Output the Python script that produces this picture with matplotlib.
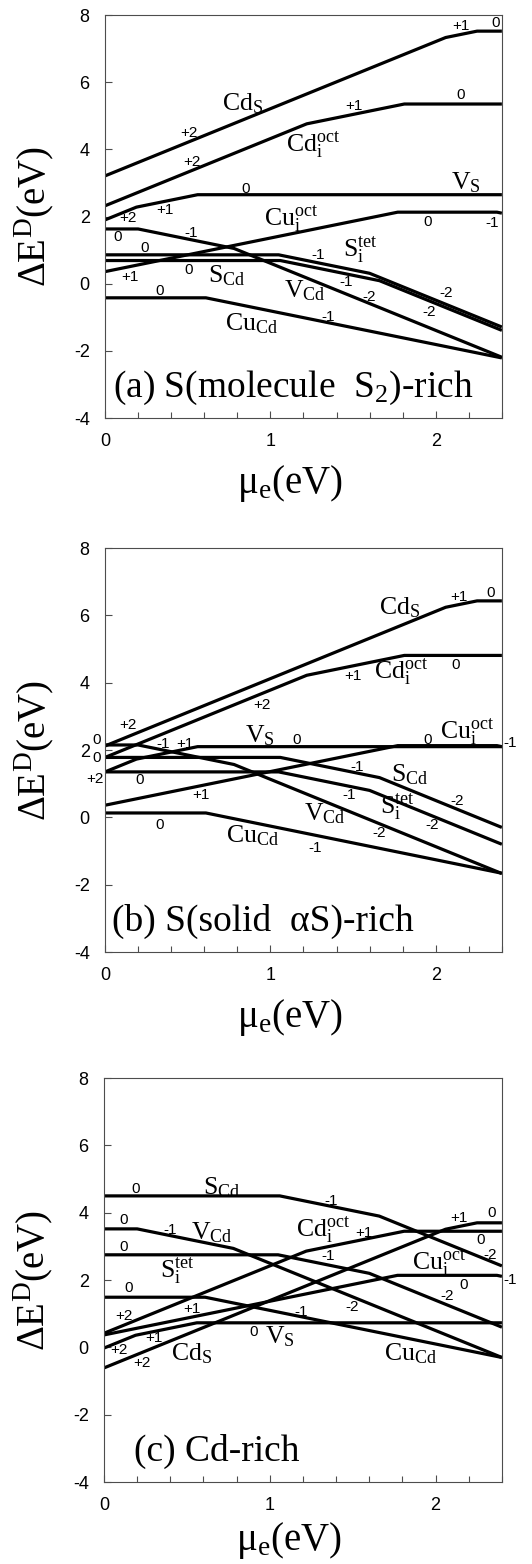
import matplotlib
matplotlib.use('Agg')
import matplotlib.pyplot as plt
from matplotlib.ticker import MultipleLocator

plt.rcParams['font.family'] = 'Liberation Sans'
plt.rcParams['mathtext.fontset'] = 'custom'
plt.rcParams['mathtext.rm'] = 'Liberation Serif'
plt.rcParams['mathtext.it'] = 'Liberation Serif:italic'
plt.rcParams['axes.unicode_minus'] = False

# Fermi-level break points (transition levels) for each defect
x_CdS = [0, 2.06, 2.25, 2.4]
x_Cdi = [0, 1.22, 1.81, 2.4]
x_VS = [0, 0.19, 0.56, 2.4]
x_Cui = [0, 1.77, 2.37, 2.4]
x_VCd = [0, 0.2, 0.78, 2.4]
x_Si = [0, 1.05, 1.60, 2.4]
x_SCd = [0, 1.06, 1.66, 2.4]
x_CuCd = [0, 0.61, 2.4]

# formation energies at those points, (a) S2-rich
a_CdS = [3.21, 7.33, 7.52, 7.52]
a_Cdi = [2.32, 4.76, 5.35, 5.35]
a_VS = [1.90, 2.28, 2.65, 2.65]
a_Cui = [0.36, 2.13, 2.13, 2.10]
a_VCd = [1.63, 1.63, 1.05, -2.19]
a_Si = [0.86, 0.86, 0.31, -1.29]
a_SCd = [0.69, 0.69, 0.09, -1.39]
a_CuCd = [-0.42, -0.42, -2.21]

# (b) solid S-rich
b_CdS = [2.12, 6.24, 6.43, 6.43]
b_Cdi = [1.78, 4.22, 4.81, 4.81]
b_VS = [1.35, 1.73, 2.10, 2.10]
b_Cui = [0.36, 2.13, 2.13, 2.10]
b_VCd = [2.15, 2.15, 1.57, -1.67]
b_Si = [1.35, 1.35, 0.80, -0.80]
b_SCd = [1.78, 1.78, 1.18, -0.30]
b_CuCd = [0.13, 0.13, -1.66]

# (c) Cd-rich
c_CdS = [-0.61, 3.51, 3.70, 3.70]
c_Cdi = [0.42, 2.86, 3.45, 3.45]
c_VS = [-0.02, 0.36, 0.73, 0.73]
c_Cui = [0.37, 2.14, 2.14, 2.11]
c_VCd = [3.52, 3.52, 2.94, -0.30]
c_Si = [2.75, 2.75, 2.20, 0.60]
c_SCd = [4.50, 4.50, 3.90, 2.42]
c_CuCd = [1.49, 1.49, -0.30]

CdS = r'$\mathrm{Cd_S}$'
Cdi = r'$\mathrm{Cd_i^{oct}}$'
VS = r'$\mathrm{V_S}$'
Cui = r'$\mathrm{Cu_i^{oct}}$'
VCd = r'$\mathrm{V_{Cd}}$'
Si = r'$\mathrm{S_i^{tet}}$'
SCd = r'$\mathrm{S_{Cd}}$'
CuCd = r'$\mathrm{Cu_{Cd}}$'

# defect name labels
a_names = [(0.83, 5.36, CdS), (1.26, 4.14, Cdi), (2.18, 3.0, VS), (1.125, 1.95, Cui),
           (1.545, 1.0, Si), (0.733, 0.23, SCd), (1.21, -0.21, VCd), (0.883, -1.18, CuCd)]
b_names = [(1.78, 6.22, CdS), (1.79, 4.32, Cdi), (0.935, 2.43, VS), (2.19, 2.55, Cui),
           (1.845, 1.27, SCd), (1.77, 0.31, Si), (1.33, 0.11, VCd), (0.89, -0.56, CuCd)]
c_names = [(0.71, 4.73, SCd), (0.65, 3.41, VCd), (0.44, 2.28, Si), (1.32, 3.49, Cdi),
           (2.02, 2.53, Cui), (1.06, 0.32, VS), (0.53, -0.18, CdS), (1.85, -0.18, CuCd)]

# charge state labels
a_q = [(0.51, 4.49, '+2'), (0.525, 3.62, '+2'), (1.505, 5.28, '+1'), (2.15, 7.67, '+1'),
       (2.36, 7.75, '0'), (2.15, 5.63, '0'), (0.85, 2.82, '0'), (0.14, 1.95, '+2'),
       (0.36, 2.18, '+1'), (1.95, 1.85, '0'), (2.34, 1.8, '-1'), (0.075, 1.40, '0'),
       (0.52, 1.50, '-1'), (0.24, 1.05, '0'), (0.15, 0.21, '+1'), (0.505, 0.41, '0'),
       (1.29, 0.86, '-1'), (1.46, 0.06, '-1'), (1.60, -0.39, '-2'), (2.06, -0.29, '-2'),
       (1.96, -0.84, '-2'), (0.33, -0.22, '0'), (1.35, -1.0, '-1')]
b_q = [(0.14, 2.73, '+2'), (-0.05, 2.31, '0'), (-0.05, 1.76, '0'), (-0.06, 1.14, '+2'),
       (0.35, 2.19, '-1'), (0.485, 2.19, '+1'), (1.16, 2.31, '0'), (1.95, 2.31, '0'),
       (2.45, 2.21, '-1'), (0.21, 1.12, '0'), (0.58, 0.67, '+1'), (0.95, 3.35, '+2'),
       (1.5, 4.19, '+1'), (2.12, 4.53, '0'), (2.14, 6.56, '+1'), (2.33, 6.66, '0'),
       (1.525, 1.51, '-1'), (2.13, 0.48, '-2'), (1.475, 0.67, '-1'), (1.98, -0.22, '-2'),
       (1.66, -0.47, '-2'), (0.33, -0.22, '0'), (1.27, -0.91, '-1')]
c_q = [(0.19, 4.71, '0'), (1.37, 4.36, '-1'), (0.12, 3.79, '0'), (0.40, 3.49, '-1'),
       (0.12, 2.98, '0'), (1.565, 3.41, '+1'), (2.14, 3.84, '+1'), (2.34, 3.99, '0'),
       (2.27, 3.19, '0'), (2.33, 2.75, '-2'), (2.45, 2.0, '-1'), (2.17, 1.86, '0'),
       (2.07, 1.53, '-2'), (1.35, 2.70, '-1'), (0.15, 1.76, '0'), (1.19, 1.06, '-1'),
       (1.495, 1.21, '-2'), (0.12, 0.93, '+2'), (0.53, 1.13, '+1'), (0.90, 0.47, '0'),
       (0.09, -0.08, '+2'), (0.30, 0.27, '+1'), (0.23, -0.46, '+2')]


def mkplt(rect, ys, names, charges, title, title_x, xpad=9):
    ax = fig.add_axes(rect)
    xs = [x_CdS, x_Cdi, x_VS, x_Cui, x_VCd, x_Si, x_SCd, x_CuCd]
    for x, y in zip(xs, ys):
        ax.plot(x, y, '-k', linewidth=2.3, solid_capstyle='butt')
    for x, y, s in names:
        ax.text(x, y, s, fontsize=18.5, ha='center', va='center')
    for x, y, s in charges:
        ax.text(x, y, s, fontsize=11, ha='center', va='center')
    ax.text(title_x, -3.1, title, fontsize=27, family='Liberation Serif', va='center')
    ax.set_xlim(0, 2.4)
    ax.set_ylim(-4, 8)
    ax.set_xticks([0, 1, 2])
    ax.set_yticks([-4, -2, 0, 2, 4, 6, 8])
    ax.xaxis.set_minor_locator(MultipleLocator(0.2))
    ax.tick_params(direction='in', length=5, width=0.8, labelsize=13, pad=11,
                   top=False, right=False, color='0.3')
    ax.tick_params(which='minor', direction='in', length=4, width=0.8, top=False, color='0.3')
    for sp in ax.spines.values():
        sp.set_linewidth(0.8)
        sp.set_color('0.3')
    ax.set_xlabel(r'$\mathrm{μ_e(eV)}$', fontsize=28, labelpad=xpad)
    ax.xaxis.label.set_x(0.465)
    ax.set_ylabel(r'$\Delta\mathrm{E^D(eV)}$', fontsize=28, labelpad=13)
    return ax


fig = plt.figure(figsize=(5.32, 15.64), dpi=100)
mkplt([0.1974, 0.7327, 0.746, 0.2577],
      [a_CdS, a_Cdi, a_VS, a_Cui, a_VCd, a_Si, a_SCd, a_CuCd],
      a_names, a_q, r'(a) S(molecule  S$_2$)-rich', 0.05)
mkplt([0.1974, 0.3913, 0.746, 0.2583],
      [b_CdS, b_Cdi, b_VS, b_Cui, b_VCd, b_Si, b_SCd, b_CuCd],
      b_names, b_q, r'(b) S(solid  αS)-rich', 0.04)
mkplt([0.1955, 0.0524, 0.748, 0.2583],
      [c_CdS, c_Cdi, c_VS, c_Cui, c_VCd, c_Si, c_SCd, c_CuCd],
      c_names, c_q, '(c) Cd-rich', 0.18, xpad=4)
plt.savefig('out.png', dpi=100)
